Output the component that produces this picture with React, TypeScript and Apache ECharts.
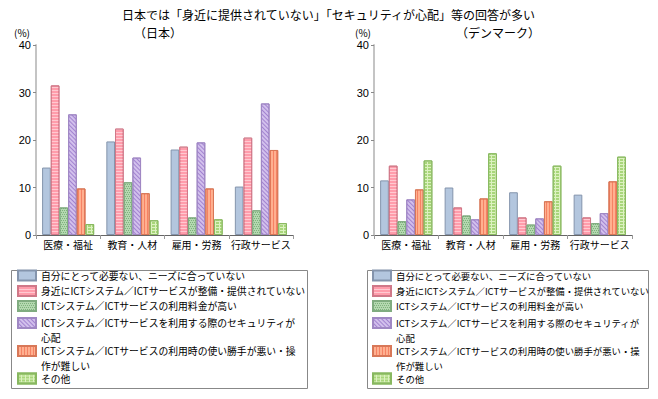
import React, { useEffect, useRef } from "react";
import * as echarts from "echarts";

const categories = ["医療・福祉", "教育・人材", "雇用・労務", "行政サービス"];
const seriesNames = [
  "自分にとって必要ない、ニーズに合っていない",
  "身近にICTシステム／ICTサービスが整備・提供されていない",
  "ICTシステム／ICTサービスの利用料金が高い",
  "ICTシステム／ICTサービスを利用する際のセキュリティが心配",
  "ICTシステム／ICTサービスの利用時の使い勝手が悪い・操作が難しい",
  "その他",
];
const legendLabels = [
  "自分にとって必要ない、ニーズに合っていない",
  "身近にICTシステム／ICTサービスが整備・提供されていない",
  "ICTシステム／ICTサービスの利用料金が高い",
  "\nICTシステム／ICTサービスを利用する際のセキュリティが\n心配",
  "\nICTシステム／ICTサービスの利用時の使い勝手が悪い・操\n作が難しい",
  "その他",
];
const yTicks = [0, 10, 20, 30, 40];

// Japan
const jpNotNeeded = [14.2, 19.7, 18.0, 10.2];
const jpNotProvided = [31.5, 22.4, 18.6, 20.5];
const jpExpensive = [5.8, 11.1, 3.7, 5.2];
const jpSecurity = [25.4, 16.3, 19.5, 27.7];
const jpHardToUse = [9.8, 8.8, 9.8, 17.9];
const jpOther = [2.3, 3.1, 3.3, 2.5];

// Denmark
const dkNotNeeded = [11.5, 10.0, 9.0, 8.5];
const dkNotProvided = [14.6, 5.8, 3.7, 3.7];
const dkExpensive = [2.9, 4.1, 2.2, 2.5];
const dkSecurity = [7.5, 3.3, 3.5, 4.6];
const dkHardToUse = [9.6, 7.7, 7.1, 11.3];
const dkOther = [15.7, 17.2, 14.6, 16.5];

const FONT = '"Noto Sans CJK JP", "Noto Sans", sans-serif';

const styles = [
  { color: "#b3c6de", borderColor: "#8494ac" },
  {
    color: "#ff9cab",
    borderColor: "#d07888",
    decal: { symbol: "rect", symbolSize: 1, color: "rgba(255,255,255,0.45)", dashArrayX: [1, 0], dashArrayY: [1, 2], rotation: 0 },
  },
  {
    color: "#b4d8b0",
    borderColor: "#80ac80",
    decal: { symbol: "rect", symbolSize: 1, color: "rgba(60,130,60,0.45)", dashArrayX: [[1, 1], [0, 1, 1, 0]], dashArrayY: [1, 1], rotation: 0 },
  },
  {
    color: "#d2c0ec",
    borderColor: "#a088c4",
    decal: { symbol: "rect", symbolSize: 1, color: "rgba(130,90,190,0.6)", dashArrayX: [1, 0], dashArrayY: [1, 2], rotation: Math.PI / 4 },
  },
  {
    color: "#ffb090",
    borderColor: "#d87858",
    decal: { symbol: "rect", symbolSize: 1, color: "rgba(240,100,70,0.6)", dashArrayX: [1, 2], dashArrayY: [1, 0], rotation: 0 },
  },
  {
    color: "#dcf2c0",
    borderColor: "#88b860",
    decal: { symbol: "rect", symbolSize: 1, color: "#a8d67a", dashArrayX: [3, 1], dashArrayY: [2, 1], rotation: 0 },
  },
];

const jpData = [jpNotNeeded, jpNotProvided, jpExpensive, jpSecurity, jpHardToUse, jpOther];
const dkData = [dkNotNeeded, dkNotProvided, dkExpensive, dkSecurity, dkHardToUse, dkOther];

export default function App() {
  const ref = useRef<HTMLDivElement>(null);
  useEffect(() => {
    if (!ref.current) return;
    const chart = echarts.init(ref.current, undefined, { renderer: "svg" });

    const grids = [
      { left: 36, top: 45, width: 257, height: 190 },
      { left: 374, top: 45, width: 258, height: 190 },
    ];

    const xAxes = grids.map((_, i) => ({
      type: "category",
      gridIndex: i,
      data: categories,
      axisLine: { lineStyle: { color: "#666", width: 1 } },
      axisTick: { show: true, length: 4, lineStyle: { color: "#999" } },
      axisLabel: { interval: 0, fontSize: 10, color: "#000", fontFamily: FONT, margin: 4 },
    }));
    const yAxes = grids.map((_, i) => ({
      type: "value",
      gridIndex: i,
      min: yTicks[0],
      max: yTicks[yTicks.length - 1],
      interval: 10,
      axisLine: { show: true, lineStyle: { color: "#c4c4c4", width: 2 } },
      axisTick: { show: true, length: 3, lineStyle: { color: "#888" } },
      axisLabel: { fontSize: 11, color: "#000", fontFamily: "Liberation Sans, sans-serif", margin: 5 },
      splitLine: { show: false },
    }));

    const makeSeries = (data: number[][], idx: number) =>
      data.map((vals, k) => ({
        type: "bar",
        name: seriesNames[k],
        xAxisIndex: idx,
        yAxisIndex: idx,
        data: vals,
        barGap: "0%",
        barCategoryGap: "19%",
        itemStyle: {
          color: styles[k].color,
          borderColor: styles[k].borderColor,
          borderWidth: 1,
          decal: (styles[k] as any).decal,
        },
      }));

    const twoLine = [false, false, false, true, true, false];
    const iconCenters = [275.5, 291, 306, 323, 351, 378.5];
    const legends: any[] = [];
    [
      { left: 17, fontSize: 9.8 },
      { left: 372, fontSize: 9.4 },
    ].forEach(({ left, fontSize }) => {
      seriesNames.forEach((name, k) => {
        legends.push({
          left,
          top: iconCenters[k] - (twoLine[k] ? 22.5 : 7.5),
          padding: 0,
          itemWidth: 18,
          itemHeight: 10,
          itemGap: 0,
          icon: "rect",
          selectedMode: false,
          data: [name],
          formatter: (n: string) => legendLabels[seriesNames.indexOf(n)],
          textStyle: { fontSize, lineHeight: 15, color: "#000", fontFamily: FONT },
        });
      });
    });

    chart.setOption({
      animation: false,
      aria: { enabled: true, decal: { show: false } },
      grid: grids,
      xAxis: xAxes,
      yAxis: yAxes,
      legend: legends,
      series: [...makeSeries(jpData, 0), ...makeSeries(dkData, 1)],
      graphic: [
        {
          type: "text",
          left: "center",
          top: 8,
          style: { text: "日本では「身近に提供されていない」「セキュリティが心配」等の回答が多い", fill: "#000", font: `12px ${FONT}` },
        },
        { type: "text", x: 158, y: 32, style: { text: "（日本）", fill: "#000", font: `12px ${FONT}`, align: "center", verticalAlign: "middle" } },
        { type: "text", x: 498, y: 32, style: { text: "（デンマーク）", fill: "#000", font: `12px ${FONT}`, align: "center", verticalAlign: "middle" } },
        { type: "text", x: 22, y: 32, style: { text: "(%)", fill: "#000", font: `10px ${FONT}`, align: "center", verticalAlign: "middle" } },
        { type: "text", x: 363, y: 32, style: { text: "(%)", fill: "#000", font: `10px ${FONT}`, align: "center", verticalAlign: "middle" } },
        { type: "rect", shape: { x: 11.5, y: 270.5, width: 296, height: 118 }, style: { fill: "none", stroke: "#888", lineWidth: 1 }, z: 0 },
        { type: "rect", shape: { x: 367.5, y: 270.5, width: 281, height: 118 }, style: { fill: "none", stroke: "#888", lineWidth: 1 }, z: 0 },
      ],
    });
    return () => chart.dispose();
  }, []);
  return <div ref={ref} style={{ width: 658, height: 399, position: "absolute", left: 0, top: 0 }} />;
}
